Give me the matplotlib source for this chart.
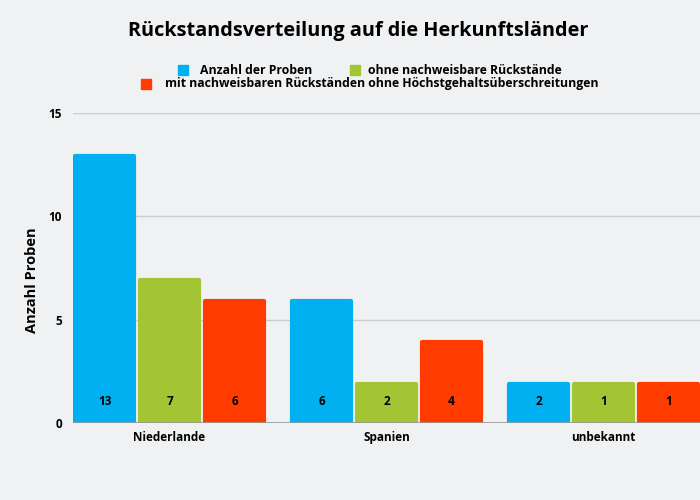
import matplotlib
matplotlib.use("Agg")
import matplotlib.pyplot as plt
from matplotlib.patches import Rectangle
import numpy as np

plt.rcParams['font.family'] = ['Open Sans', 'DejaVu Sans']

categories = ["Niederlande", "Spanien", "unbekannt"]
series_names = ["Anzahl der Proben", "ohne nachweisbare Rückstände",
                "mit nachweisbaren Rückständen ohne Höchstgehaltsüberschreitungen"]
anzahl = [13, 6, 2]
ohne = [7, 2, 2]
mit = [6, 4, 2]
label_anzahl = ["13", "6", "2"]
label_ohne = ["7", "2", "1"]
label_mit = ["6", "4", "1"]
colors = ["#00b0f0", "#a3c533", "#ff3b00"]
yticks = [0, 5, 10, 15]

bg = "#f0f1f3"
fig = plt.figure(figsize=(7, 5), dpi=100, facecolor=bg)
ax = fig.add_axes([73/700, 1-423/500, 1-73/700, 310/500])
ax.set_facecolor(bg)

x = np.arange(len(categories))
step_px = 217.0
bw = 63.0 / step_px
gap = 2.0 / step_px
lw_pt = 3.0
lw_data = (lw_pt * 100 / 72) / step_px
offsets = [-(bw + gap), 0, (bw + gap)]
px_per_unit_y = 310 / 15
lw_y = (lw_pt * 100 / 72) / 2 / px_per_unit_y

for vals, labs, off, c in zip([anzahl, ohne, mit], [label_anzahl, label_ohne, label_mit], offsets, colors):
    heights = [v - lw_y for v in vals]
    ax.bar(x + off, heights, width=bw - lw_data, color=c, edgecolor=c,
           linewidth=lw_pt, joinstyle='round', zorder=3)
    for xi, lab in zip(x + off, labs):
        ax.text(xi, 1.05, lab, ha='center', va='center', fontsize=8.5,
                fontweight='bold', color='black', zorder=4)

ax.set_xlim((73 - 169.5) / step_px, (700 - 169.5) / step_px)
ax.set_ylim(0, 15)
ax.set_yticks(yticks)
ax.set_yticklabels([str(t) for t in yticks], fontsize=8.5, fontweight='bold')
ax.set_xticks(x)
ax.set_xticklabels(categories, fontsize=8.5, fontweight='bold')
ax.tick_params(axis='both', length=0, pad=6)
ax.tick_params(axis='y', pad=8)
for s in ax.spines.values():
    s.set_visible(False)
ax.grid(axis='y', color='#cccccc', linewidth=1, zorder=0)
ax.axhline(0, color='#999999', linewidth=1.2, zorder=5)
ax.set_ylabel("Anzahl Proben", fontsize=10.5, fontweight='bold')
ax.yaxis.set_label_coords(-(73 - 39) / 627, (423 - 280) / 310)

fig.text(358/700, 1-31/500, "Rückstandsverteilung auf die Herkunftsländer",
         ha='center', va='center', fontsize=14.3, fontweight='bold')

# legend (manual layout)
leg = [(178, 70, 200), (350, 70, 368), (141, 84, 165)]
for (mx, my, tx), name, c in zip(leg, series_names, colors):
    fig.patches.append(Rectangle((mx/700, 1-(my+5)/500), 10/700, 10/500,
                                 transform=fig.transFigure, color=c, figure=fig))
    fig.text(tx/700, 1-my/500, name, ha='left', va='center', fontsize=8.8,
             fontweight='bold')

fig.savefig("out.png", dpi=100, facecolor=bg)
